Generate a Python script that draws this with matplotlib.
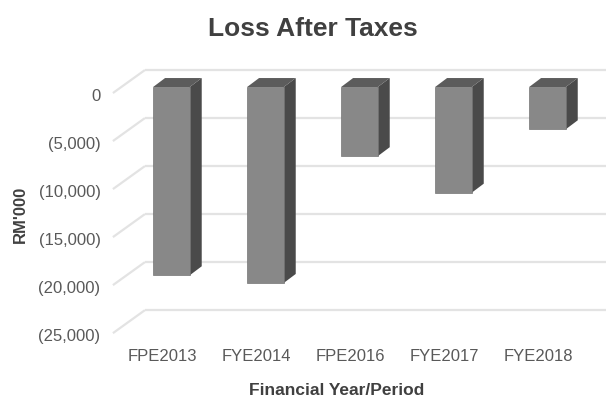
import matplotlib.pyplot as plt
from matplotlib.transforms import ScaledTranslation

# Data
periods = ['FPE2013', 'FYE2014', 'FPE2016', 'FYE2017', 'FYE2018']
loss = [-19600, -20400, -7200, -11000, -4400]
yticks = [0, -5000, -10000, -15000, -20000, -25000]
ytick_labels = ['0', '(5,000)', '(10,000)', '(15,000)', '(20,000)', '(25,000)']

plt.rcParams['font.family'] = ['Liberation Sans', 'DejaVu Sans']

fig = plt.figure(figsize=(6.06, 3.99), dpi=100)
ax = fig.add_axes([0.182, 0.156, 0.8175, 0.674])
ax.set_xlim(-0.65, 4.62)
ax.set_ylim(-26000, 2000)

# pixel -> data conversion (approx. 94 px per category, 48 px per 5000)
px_x = 1 / 94
px_y = 5000 / 48

# depth offsets (faux 3D)
bar_dx, bar_dy = 12 * px_x, 9 * px_y
front_dx, front_dy = -8 * px_x, -6 * px_y
back_dx, back_dy = 24 * px_x, 17 * px_y
x_left = -0.537
x_right = 4.37

grid_col = '#e3e3e3'
for t in yticks:
    # floor / side wall diagonal
    ax.plot([x_left + front_dx, x_left + back_dx], [t + front_dy, t + back_dy],
            color=grid_col, lw=1.6, zorder=1, clip_on=False, solid_capstyle='butt')
    # back wall line
    ax.plot([x_left + back_dx, x_right + back_dx], [t + back_dy, t + back_dy],
            color=grid_col, lw=1.6, zorder=1, clip_on=False, solid_capstyle='butt')

w = 0.39
xs = list(range(len(periods)))
ax.bar(xs, loss, width=w, color='#888888', edgecolor='#747474', linewidth=0.5,
       align='center', zorder=3)
for x, v in zip(xs, loss):
    xl, xr = x - w / 2, x + w / 2
    # side face
    ax.fill([xr, xr + bar_dx, xr + bar_dx, xr], [0, bar_dy, v + bar_dy, v],
            color='#4a4a4a', zorder=2.5, lw=0)
    # top face
    ax.fill([xl, xr, xr + bar_dx, xl + bar_dx], [0, 0, bar_dy, bar_dy],
            color='#5c5c5c', zorder=2.5, lw=0)

for s in ax.spines.values():
    s.set_visible(False)

ax.set_yticks(yticks)
ax.set_yticklabels(ytick_labels)
ax.set_xticks(xs)
ax.set_xticklabels(periods)
ax.tick_params(axis='both', length=0, labelsize=12, labelcolor='#595959')
ax.tick_params(axis='y', pad=7)
ax.tick_params(axis='x', pad=9)

for lab in ax.get_yticklabels():
    lab.set_transform(lab.get_transform() + ScaledTranslation(0, -8 / 100, fig.dpi_scale_trans))
for lab in ax.get_xticklabels():
    lab.set_transform(lab.get_transform() + ScaledTranslation(-9 / 100, 0, fig.dpi_scale_trans))

ax.set_title('Loss After Taxes', fontsize=19, fontweight='bold', color='#404040',
             x=0.408, y=1.145, va='center', pad=0)
ax.set_xlabel('Financial Year/Period', fontsize=12.5, fontweight='bold', color='#404040',
              va='center')
ax.xaxis.set_label_coords(0.457, -0.199)
ax.set_ylabel("RM'000", fontsize=12, fontweight='bold', color='#404040', va='center')
ax.yaxis.set_label_coords(-0.1825, 0.456)

fig.savefig('out.png', dpi=100)
